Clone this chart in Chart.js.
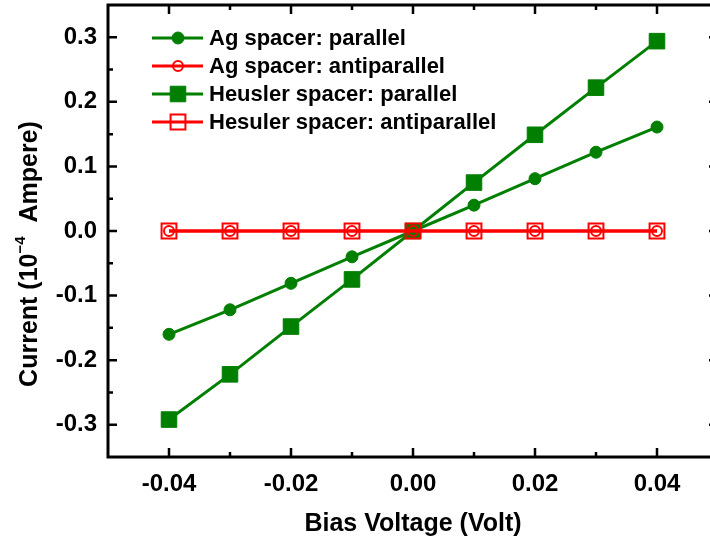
<!DOCTYPE html>
<html>
<head>
<meta charset="UTF-8">
<title>Current vs Bias Voltage</title>
<script src="https://cdn.jsdelivr.net/npm/chart.js"></script>
<style>
  html, body { margin: 0; padding: 0; background: #fff; overflow: hidden; }
</style>
</head>
<body>
<canvas id="ivChart" width="720" height="540"></canvas>

<script>
// bias sweep (Volt) and measured currents (10^-4 Ampere)
const biasVoltage = [-0.04, -0.03, -0.02, -0.01, 0, 0.01, 0.02, 0.03, 0.04];
const agParallel = [-0.160, -0.122, -0.081, -0.040, 0, 0.040, 0.081, 0.122, 0.161];
const agAntiparallel = [0, 0, 0, 0, 0, 0, 0, 0, 0];
const heuslerParallel = [-0.292, -0.222, -0.148, -0.075, 0, 0.075, 0.149, 0.222, 0.294];
const heuslerAntiparallel = [0, 0, 0, 0, 0, 0, 0, 0, 0];
const seriesNames = ['Ag spacer: parallel', 'Ag spacer: antiparallel',
                     'Heusler spacer: parallel', 'Hesuler spacer: antiparallel'];

const xMajorTicks = [-0.04, -0.02, 0, 0.02, 0.04];
const xMinorTicks = [-0.03, -0.01, 0.01, 0.03];
const yMajorTicks = [-0.3, -0.2, -0.1, 0, 0.1, 0.2, 0.3];
const yMinorTicks = [-0.25, -0.15, -0.05, 0.05, 0.15, 0.25];

const GREEN = '#007f00';
const RED = '#ff0000';
const FONT = '"Liberation Sans", Arial, sans-serif';

function points(values) {
    return biasVoltage.map((v, i) => ({ x: v, y: values[i] }));
}

// marker styles, shared by the datasets and the legend
const styles = [
    { color: GREEN, pointStyle: 'circle', radius: 6, fill: GREEN, bw: 1 },
    { color: RED, pointStyle: 'circle', radius: 5, fill: 'rgba(0,0,0,0)', bw: 2 },
    { color: GREEN, pointStyle: 'rect', radius: 11, fill: GREEN, bw: 1 },
    { color: RED, pointStyle: 'rect', radius: 10.5, fill: 'rgba(0,0,0,0)', bw: 2 }
];
const seriesValues = [agParallel, agAntiparallel, heuslerParallel, heuslerAntiparallel];

const datasets = seriesValues.map((vals, i) => ({
    label: seriesNames[i],
    data: points(vals),
    borderColor: styles[i].color,
    borderWidth: 3,
    pointStyle: styles[i].pointStyle,
    pointRadius: styles[i].radius,
    pointBackgroundColor: styles[i].fill,
    pointBorderColor: styles[i].color,
    pointBorderWidth: styles[i].bw,
    // red curves sit on top of the green ones
    order: styles[i].color === RED ? 0 : 1
}));

function drawMarker(ctx, s, x, y) {
    ctx.save();
    ctx.fillStyle = s.fill;
    ctx.strokeStyle = s.color;
    ctx.lineWidth = s.bw;
    ctx.beginPath();
    if (s.pointStyle === 'circle') {
        ctx.arc(x, y, s.radius, 0, Math.PI * 2);
    } else {
        const h = s.radius * Math.SQRT1_2;
        ctx.rect(x - h, y - h, 2 * h, 2 * h);
    }
    ctx.fill();
    ctx.stroke();
    ctx.restore();
}

// frame with inward ticks, y title with superscript, and the inset legend
const framePlugin = {
    id: 'frame',
    afterDraw(chart) {
        const ctx = chart.ctx;
        const a = chart.chartArea;
        const xs = chart.scales.x, ys = chart.scales.y;
        ctx.save();
        ctx.strokeStyle = '#000';
        ctx.lineWidth = 3;
        ctx.strokeRect(a.left, a.top, a.right - a.left, a.bottom - a.top);

        ctx.lineWidth = 2.5;
        ctx.beginPath();
        const xTick = (v, len) => {
            const px = xs.getPixelForValue(v);
            ctx.moveTo(px, a.bottom); ctx.lineTo(px, a.bottom - len);
            ctx.moveTo(px, a.top); ctx.lineTo(px, a.top + len);
        };
        const yTick = (v, len) => {
            const py = ys.getPixelForValue(v);
            ctx.moveTo(a.left, py); ctx.lineTo(a.left + len, py);
            ctx.moveTo(a.right, py); ctx.lineTo(a.right - len, py);
        };
        xMajorTicks.forEach(v => xTick(v, 9));
        xMinorTicks.forEach(v => xTick(v, 5));
        yMajorTicks.forEach(v => yTick(v, 9));
        yMinorTicks.forEach(v => yTick(v, 5));
        ctx.stroke();

        // y axis title
        ctx.fillStyle = '#000';
        ctx.textBaseline = 'middle';
        ctx.textAlign = 'left';
        const big = 'bold 25px ' + FONT, small = 'bold 15px ' + FONT;
        const parts = [['Current (10', big, 0], ['\u22124', small, -9], ['  Ampere)', big, 0]];
        let total = 0;
        parts.forEach(p => { ctx.font = p[1]; total += ctx.measureText(p[0]).width; });
        ctx.translate(30, 254);
        ctx.rotate(-Math.PI / 2);
        let cx = -total / 2;
        parts.forEach(p => {
            ctx.font = p[1];
            ctx.fillText(p[0], cx, p[2]);
            cx += ctx.measureText(p[0]).width;
        });
        ctx.restore();

        // legend
        ctx.save();
        ctx.font = 'bold 22px ' + FONT;
        ctx.textBaseline = 'middle';
        ctx.fillStyle = '#000';
        seriesNames.forEach((name, i) => {
            const y = 38 + i * 28;
            ctx.strokeStyle = styles[i].color;
            ctx.lineWidth = 3;
            ctx.beginPath();
            ctx.moveTo(152, y); ctx.lineTo(203, y);
            ctx.stroke();
            drawMarker(ctx, styles[i], 178, y);
            ctx.fillText(name, 209, y + 1);
        });
        ctx.restore();
    }
};

const tickFont = { family: FONT, size: 24, weight: 'bold' };

// keep the plot box fixed, whatever the tick labels need
function noPadding(s) {
    s.paddingTop = 0; s.paddingBottom = 0;
    s.paddingLeft = 0; s.paddingRight = 0;
}

new Chart(document.getElementById('ivChart'), {
    type: 'line',
    data: { datasets: datasets },
    options: {
        responsive: false,
        animation: false,
        layout: { autoPadding: false, padding: { top: 5, right: 2, left: 0, bottom: 0 } },
        plugins: { legend: { display: false }, tooltip: { enabled: false } },
        scales: {
            x: {
                type: 'linear',
                min: -0.05,
                max: 0.05,
                afterBuildTicks: s => { s.ticks = xMajorTicks.map(v => ({ value: v })); },
                afterFit: s => { s.height = 83; noPadding(s); },
                grid: { display: false, drawTicks: false },
                border: { display: false },
                ticks: {
                    color: '#000', font: tickFont, padding: 13,
                    autoSkip: false, maxRotation: 0,
                    callback: v => v.toFixed(2)
                },
                title: {
                    display: true, text: 'Bias Voltage (Volt)', color: '#000',
                    font: { family: FONT, size: 25, weight: 'bold' },
                    padding: { top: 0, bottom: 1 }
                }
            },
            y: {
                min: -0.35,
                max: 0.35,
                afterBuildTicks: s => { s.ticks = yMajorTicks.map(v => ({ value: v })); },
                afterFit: s => { s.width = 108; noPadding(s); },
                grid: { display: false, drawTicks: false },
                border: { display: false },
                ticks: {
                    color: '#000', font: tickFont, padding: 11,
                    autoSkip: false,
                    callback: v => v.toFixed(1)
                }
            }
        }
    },
    plugins: [framePlugin]
});
</script>
</body>
</html>
